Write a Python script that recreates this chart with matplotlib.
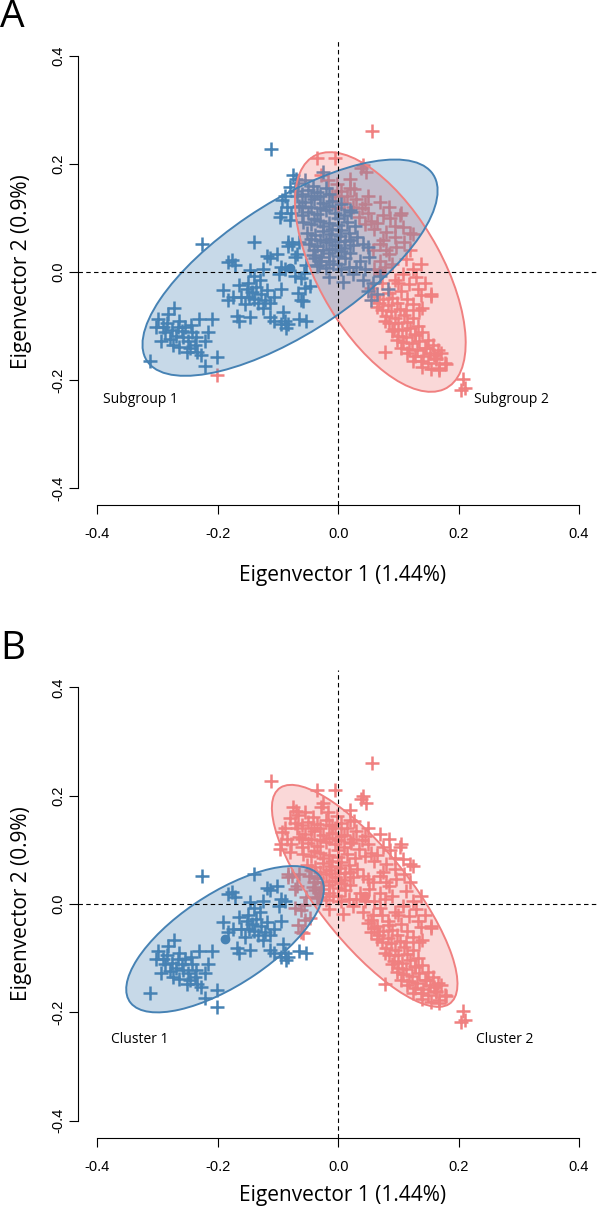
import numpy as np
import matplotlib
matplotlib.use('Agg')
import matplotlib.pyplot as plt
from matplotlib.patches import Ellipse

BLUE = '#4682B4'
RED = '#F08080'
W, H = 600, 1208

# points, split by membership (subgroup in A, cluster in B)
# subgroup 1 / cluster 1
pts_s1_c1 = [
  (-0.226, 0.051), (-0.140, 0.055), (-0.177, 0.023), (-0.171, 0.013), (-0.183, 0.019),
  (-0.119, 0.029), (-0.113, 0.026), (-0.101, 0.033), (-0.125, 0.006), (-0.146, 0.003),
  (-0.140, -0.007), (-0.095, 0.009), (-0.089, 0.006), (-0.098, -0.004), (-0.165, -0.024),
  (-0.152, -0.031), (-0.143, -0.037), (-0.137, -0.027), (-0.128, -0.041), (-0.122, -0.051),
  (-0.119, -0.034), (-0.174, -0.047), (-0.183, -0.051), (-0.162, -0.047), (-0.149, -0.047),
  (-0.134, -0.057), (-0.113, -0.057), (-0.125, -0.067), (-0.192, -0.034), (-0.168, -0.081),
  (-0.165, -0.091), (-0.146, -0.084), (-0.113, -0.084), (-0.107, -0.091), (-0.092, -0.074),
  (-0.089, -0.091), (-0.083, -0.097), (-0.086, -0.104), (-0.095, -0.097), (-0.053, -0.091),
  (-0.065, -0.087), (-0.095, -0.031), (-0.107, -0.047), (-0.155, -0.060), (-0.140, -0.050),
  (-0.150, -0.020), (-0.130, -0.015),
  (-0.273, -0.067), (-0.282, -0.077), (-0.300, -0.087), (-0.303, -0.101), (-0.291, -0.101),
  (-0.288, -0.111), (-0.276, -0.108), (-0.270, -0.118), (-0.264, -0.091), (-0.267, -0.101),
  (-0.258, -0.121), (-0.279, -0.124), (-0.294, -0.128), (-0.264, -0.138), (-0.249, -0.128),
  (-0.243, -0.111), (-0.237, -0.121), (-0.246, -0.141), (-0.234, -0.148), (-0.231, -0.087),
  (-0.210, -0.087), (-0.216, -0.111), (-0.222, -0.128), (-0.228, -0.154), (-0.222, -0.174),
  (-0.201, -0.158), (-0.313, -0.164), (-0.255, -0.101), (-0.252, -0.148), (-0.285, -0.095),
  (-0.275, -0.135), (-0.260, -0.110), (-0.245, -0.098), (-0.238, -0.135),
]
# subgroup 1 / cluster 2
pts_s1_c2 = [
  (-0.111, 0.227), (-0.075, 0.180), (-0.070, 0.172), (-0.080, 0.158), (-0.066, 0.165),
  (-0.072, 0.150), (-0.094, 0.133), (-0.068, 0.140), (-0.097, 0.102), (-0.095, 0.110),
  (-0.080, 0.096), (-0.065, 0.123), (-0.083, 0.055), (-0.077, 0.052), (-0.072, 0.027),
  (-0.061, -0.011), (-0.055, -0.029), (-0.047, -0.026), (-0.067, -0.039), (-0.059, -0.054),
  (-0.083, 0.049), (-0.065, 0.056), (-0.068, 0.033), (-0.053, 0.013), (-0.056, -0.001),
  (-0.071, -0.007), (-0.062, -0.051), (-0.038, 0.026), (-0.032, 0.013), (-0.025, 0.186),
  (-0.050, 0.152), (-0.035, 0.148), (-0.020, 0.155), (-0.042, 0.160),
  (-0.055, 0.130), (-0.040, 0.135), (-0.025, 0.128), (-0.010, 0.132), (0.005, 0.125),
  (-0.050, 0.112), (-0.035, 0.108), (-0.020, 0.115), (-0.005, 0.110), (0.010, 0.105), (0.022, 0.112),
  (-0.058, 0.092), (-0.045, 0.088), (-0.030, 0.095), (-0.015, 0.090), (0.000, 0.087),
  (0.015, 0.092), (0.028, 0.085),
  (-0.052, 0.072), (-0.038, 0.068), (-0.025, 0.075), (-0.012, 0.070), (0.003, 0.066),
  (0.018, 0.072), (0.032, 0.065),
  (-0.048, 0.052), (-0.035, 0.048), (-0.020, 0.055), (-0.005, 0.050), (0.010, 0.045),
  (0.025, 0.050), (0.041, 0.052), (0.049, 0.046),
  (-0.042, 0.032), (-0.028, 0.028), (-0.015, 0.035), (0.000, 0.030), (0.012, 0.025),
  (0.036, 0.021), (0.052, 0.027),
  (-0.035, 0.012), (-0.020, 0.008), (-0.008, 0.015), (0.005, 0.005), (0.018, 0.010), (0.025, -0.004),
  (0.041, -0.014), (0.058, -0.020), (0.082, -0.032), (0.055, -0.051), (0.069, -0.007),
  (-0.015, -0.010), (0.008, -0.018), (0.019, 0.114), (0.011, 0.058),
  (-0.045, 0.140), (-0.030, 0.140), (-0.015, 0.145), (-0.060, 0.120), (-0.045, 0.120),
  (-0.030, 0.118), (-0.015, 0.122), (0.000, 0.100), (-0.060, 0.105), (-0.040, 0.098),
  (-0.025, 0.085), (-0.010, 0.080), (0.005, 0.078), (0.020, 0.060), (-0.045, 0.062),
  (-0.030, 0.060), (-0.015, 0.062), (0.000, 0.058), (-0.040, 0.040), (-0.025, 0.040),
  (-0.010, 0.042), (0.005, 0.038), (0.020, 0.035), (-0.030, 0.020), (-0.015, 0.020),
  (0.000, 0.015), (0.030, 0.010), (0.045, 0.005), (0.050, -0.035), (0.065, -0.040),
  (-0.055, 0.170), (-0.060, 0.145), (-0.085, 0.120), (-0.088, 0.140), (-0.078, 0.110),
]
# subgroup 2 / cluster 1
pts_s2_c1 = [(-0.201, -0.191)]
# subgroup 2 / cluster 2
pts_s2_c2 = [
  (-0.036, 0.211), (-0.006, 0.211), (0.056, 0.261), (0.041, 0.199), (0.047, 0.186),
  (0.038, 0.193), (-0.029, 0.180), (-0.017, 0.170), (-0.002, 0.163), (0.020, 0.173), (0.026, 0.153),
  (-0.010, 0.145), (0.005, 0.150), (0.015, 0.140), (0.030, 0.135), (0.010, 0.128),
  (0.025, 0.120), (0.040, 0.118), (0.035, 0.102), (0.050, 0.110), (0.055, 0.095),
  (0.045, 0.088), (0.060, 0.080), (-0.005, 0.140), (0.000, 0.118),
  (0.074, 0.105), (0.102, 0.105), (0.107, 0.083), (0.124, 0.071), (0.094, 0.064),
  (0.080, 0.074), (0.069, 0.052), (0.096, 0.046), (0.085, 0.033), (0.113, 0.024),
  (0.069, 0.021), (0.138, 0.014), (0.124, 0.005), (0.107, -0.004), (0.094, -0.014),
  (0.118, -0.023), (0.132, -0.032), (0.105, -0.036), (0.138, -0.042), (0.085, -0.039),
  (0.104, 0.110), (0.086, 0.100), (0.119, 0.073), (0.065, 0.090), (0.075, 0.060),
  (0.058, 0.040), (0.078, 0.010), (0.090, 0.015), (0.060, 0.005), (0.072, -0.020),
  (0.155, -0.041), (0.140, -0.067),
  (0.060, -0.045), (0.075, -0.050), (0.090, -0.048), (0.068, -0.058), (0.083, -0.062),
  (0.098, -0.058), (0.072, -0.070), (0.088, -0.072), (0.102, -0.068), (0.080, -0.082),
  (0.094, -0.085), (0.110, -0.080), (0.085, -0.095), (0.100, -0.095), (0.115, -0.092),
  (0.092, -0.105), (0.106, -0.108), (0.120, -0.104), (0.100, -0.118), (0.113, -0.120),
  (0.127, -0.116), (0.108, -0.130), (0.122, -0.132), (0.135, -0.128), (0.118, -0.142),
  (0.131, -0.145), (0.145, -0.140), (0.128, -0.155), (0.141, -0.156), (0.153, -0.150),
  (0.138, -0.165), (0.150, -0.168), (0.162, -0.162), (0.168, -0.178), (0.159, -0.154),
  (0.146, -0.141), (0.128, -0.114), (0.163, -0.160), (0.179, -0.170), (0.168, -0.182),
  (0.177, -0.168), (0.077, -0.148), (0.207, -0.198), (0.204, -0.218), (0.210, -0.214),
  (0.135, -0.070), (0.154, -0.045), (0.125, -0.060), (0.115, -0.050),
  (0.065, -0.065), (0.078, -0.090), (0.090, -0.110), (0.097, -0.125), (0.105, -0.140),
  (0.115, -0.150), (0.125, -0.165), (0.140, -0.175), (0.155, -0.180), (0.112, -0.070),
  (0.125, -0.085), (0.132, -0.100), (0.140, -0.112), (0.150, -0.125), (0.158, -0.135),
  (0.170, -0.150), (0.165, -0.145), (0.055, -0.030), (0.100, -0.020), (0.120, 0.040),
  (0.110, 0.055), (0.095, 0.085), (0.085, 0.120), (0.070, 0.130), (0.050, 0.140),
  (0.020, 0.155), (0.045, 0.125), (0.080, 0.040), (0.130, -0.010), (0.145, -0.020),
]

# ellipses: centre x, centre y, width, height, angle (data units)
ell_sub1 = (-0.080, 0.008, 0.588, 0.235, 37)
ell_sub2 = (0.070, 0.000, 0.483, 0.210, -64)
ell_cl1 = (-0.188, -0.065, 0.392, 0.165, 37)
ell_cl2 = (0.044, 0.015, 0.488, 0.158, -55)

ticks = [-0.4, -0.2, 0.0, 0.2, 0.4]
tick_labels = ['-0.4', '-0.2', '0.0', '0.2', '0.4']

label_font = ['Open Sans', 'DejaVu Sans']
tick_font = ['Liberation Sans', 'DejaVu Sans']


def px_rect(left, top, right, bottom):
  return [left/W, 1-bottom/H, (right-left)/W, (bottom-top)/H]


def panel(ax, grp1, grp2, ell1, ell2, names, name_pos):
  g1 = np.array(grp1)
  g2 = np.array(grp2)
  ax.set_xlim(-0.432, 0.432)
  ax.set_ylim(-0.432, 0.432)
  ax.plot(ell2[0], ell2[1], 'o', color=RED, ms=6, zorder=1)
  ax.plot(ell1[0], ell1[1], 'o', color=BLUE, ms=6, zorder=1)
  ax.plot(g2[:, 0], g2[:, 1], '+', color=RED, ms=10, mew=1.8, zorder=2)
  ax.plot(g1[:, 0], g1[:, 1], '+', color=BLUE, ms=10, mew=1.8, zorder=2)
  for e, c in [(ell2, RED), (ell1, BLUE)]:
    ax.add_patch(Ellipse((e[0], e[1]), e[2], e[3], angle=e[4], facecolor=c,
                         alpha=0.3, edgecolor='none', zorder=3))
    ax.add_patch(Ellipse((e[0], e[1]), e[2], e[3], angle=e[4], facecolor='none',
                         edgecolor=c, lw=1.4, zorder=4))
  ax.axhline(0, color='k', lw=0.8, ls=(0, (4, 3)), zorder=5)
  ax.axvline(0, color='k', lw=0.8, ls=(0, (4, 3)), zorder=5)
  for sp in ['top', 'right']:
    ax.spines[sp].set_visible(False)
  ax.spines['left'].set_bounds(-0.4, 0.4)
  ax.spines['bottom'].set_bounds(-0.4, 0.4)
  ax.spines['left'].set_linewidth(0.8)
  ax.spines['bottom'].set_linewidth(0.8)
  ax.set_xticks(ticks)
  ax.set_xticklabels(tick_labels, family=tick_font, fontsize=10.5)
  ax.set_yticks(ticks)
  ax.set_yticklabels(tick_labels, family=tick_font, fontsize=10.5, rotation=90, va='center')
  ax.tick_params(axis='both', length=6.5, width=0.8)
  ax.tick_params(axis='x', pad=9)
  ax.tick_params(axis='y', pad=3)
  for nm, pos in zip(names, name_pos):
    ax.text(pos[0], pos[1], nm, family=label_font, fontsize=10, va='center', ha='left')


fig = plt.figure(figsize=(W/100, H/100), dpi=100)

axA = fig.add_axes(px_rect(78.2, 38.7, 598.2, 505.3))
panel(axA, pts_s1_c1 + pts_s1_c2, pts_s2_c1 + pts_s2_c2, ell_sub1, ell_sub2,
      ['Subgroup 1', 'Subgroup 2'], [(-0.39, -0.236), (0.226, -0.236)])

axB = fig.add_axes(px_rect(78.2, 670.0, 598.2, 1138.0))
panel(axB, pts_s1_c1 + pts_s2_c1, pts_s1_c2 + pts_s2_c2, ell_cl1, ell_cl2,
      ['Cluster 1', 'Cluster 2'], [(-0.378, -0.251), (0.229, -0.251)])

for top, letter, ymid, xlab_y in [(0, 'A', 272, 575), (632, 'B', 904, 1195)]:
  fig.text(0/W, 1-(top-2)/H, letter, family=label_font, fontsize=28, va='top', ha='left')
  fig.text(343/W, 1-xlab_y/H, 'Eigenvector 1 (1.44%)', family=label_font, fontsize=15,
           ha='center', va='center')
  fig.text(22/W, 1-ymid/H, 'Eigenvector 2 (0.9%)', family=label_font, fontsize=15,
           ha='center', va='center', rotation=90)

fig.savefig('out.png', dpi=100)
